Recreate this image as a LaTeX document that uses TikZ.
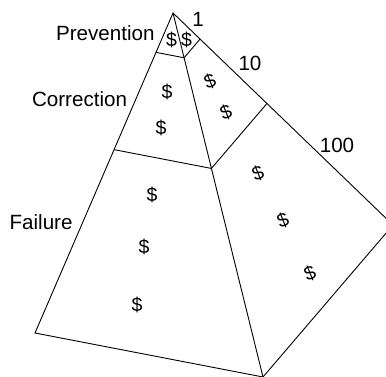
\documentclass[tikz,border=0pt]{standalone}
\usepackage{fontspec}
\setmainfont{Liberation Sans}
\usetikzlibrary{calc}
\begin{document}
\begin{tikzpicture}[x=1pt,y=-1pt, line width=0.9pt, line join=miter,
  lbl/.style={inner sep=0pt, font=\fontsize{20.6}{24}\selectfont},
  dol/.style={inner sep=0pt, font=\fontsize{19.5}{22}\selectfont},
  dolr/.style={dol, rotate=22}]
\path[use as bounding box, clip] (0,0) rectangle (386,377);
% corners of the pyramid
\coordinate (A) at (173,13);
\coordinate (L) at (35,333);
\coordinate (B) at (263,377);
\coordinate (R) at (393,225);
% level points
\coordinate (P1L) at ($(A)!0.123!(L)$);
\coordinate (P1C) at ($(A)!0.123!(B)$);
\coordinate (P1R) at ($(A)!0.123!(R)$);
\coordinate (P2L) at ($(A)!0.427!(L)$);
\coordinate (P2C) at ($(A)!0.427!(B)$);
\coordinate (P2R) at ($(A)!0.427!(R)$);
% outline and edges
\draw (A) -- (L) -- (B) -- (R) -- cycle;
\draw (A) -- (B);
\draw (P1L) -- (P1C) -- (P1R);
\draw (P2L) -- (P2C) -- (P2R);
% labels
\node[lbl, anchor=east] (prev) at (155,33) {Prevention};
\node[lbl, anchor=east] (corr) at (127.5,99) {Correction};
\node[lbl, anchor=east] (fail) at (73,222) {Failure};
\node[lbl] (one) at (198,19) {1};
\node[lbl] (ten) at (250,63) {10};
\node[lbl] (hund) at (337,145) {100};
% dollar signs
\node[dol] (d1) at (171.5,40) {\$};
\node[dol] (d2) at (186.5,40) {\$};
\node[dol] (d3) at (167,92) {\$};
\node[dol] (d4) at (161,128) {\$};
\node[dolr] (d5) at (210,81) {\$};
\node[dolr] (d6) at (226,112) {\$};
\node[dol] (d7) at (152,195) {\$};
\node[dol] (d8) at (144,247) {\$};
\node[dol] (d9) at (137,305) {\$};
\node[dolr] (d10) at (258,173) {\$};
\node[dolr] (d11) at (283,220) {\$};
\node[dolr] (d12) at (310,273) {\$};
\end{tikzpicture}
\end{document}
